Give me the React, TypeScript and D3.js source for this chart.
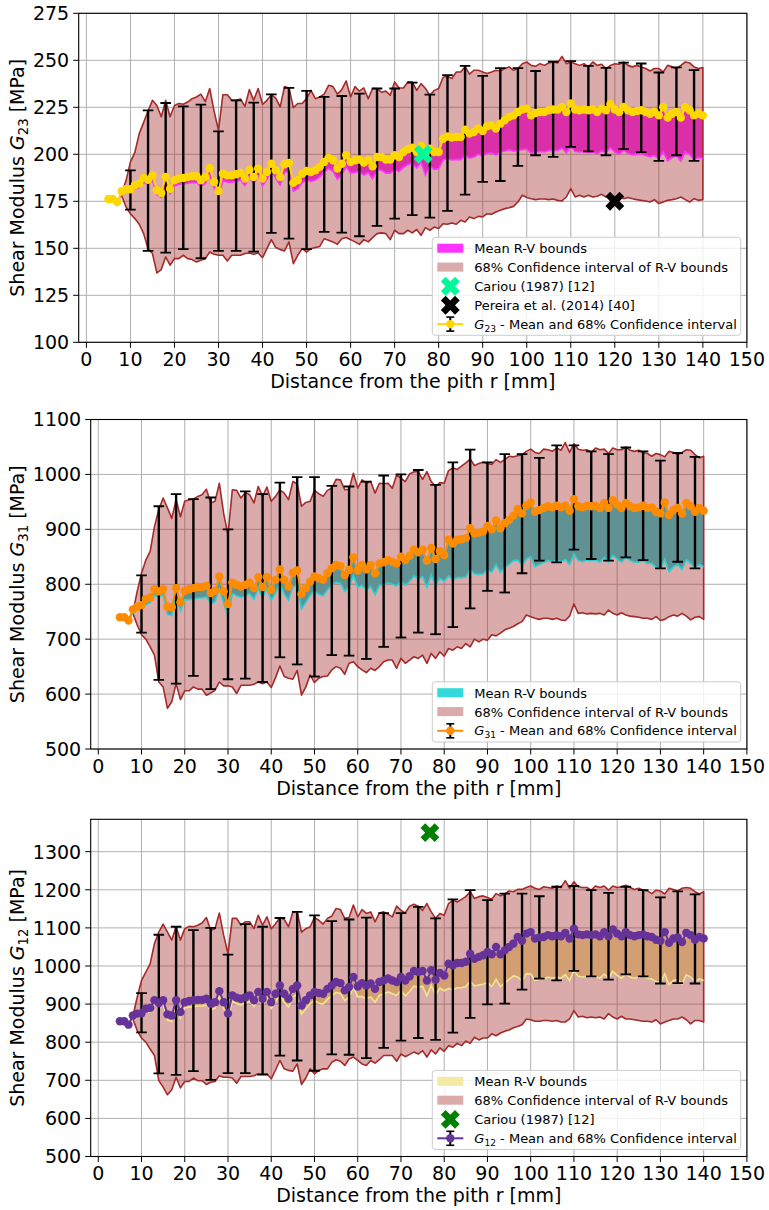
import React from "react";
import * as d3 from "d3";

// ---------------- data ----------------
const R_FIRST = 5; // mean and R-V bounds: r = 5..140 mm, 1 mm step
const CI_FIRST = 8; // CI of R-V bounds: r = 8..140 mm
const ERR_R = [10, 14, 18, 22, 26, 30, 34, 38, 42, 46, 50, 54, 58, 62, 66, 70, 74, 78, 82, 86, 90, 94, 98, 102, 106, 110, 114, 118, 122, 126, 130, 134, 138];
const X_TICKS = [0, 10, 20, 30, 40, 50, 60, 70, 80, 90, 100, 110, 120, 130, 140, 150];
const G23_TICKS = [100, 125, 150, 175, 200, 225, 250, 275];
const G31_TICKS = [500, 600, 700, 800, 900, 1000, 1100];
const G12_TICKS = [500, 600, 700, 800, 900, 1000, 1100, 1200, 1300];

// ---- G23 ----
const G23_MEAN = [176.2,176.2,174.6,180.3,181.4,181.4,183.5,184.4,187.4,186.5,
188.8,180.9,179.4,187.9,181.7,186.2,187.1,187.4,187.9,188.3,
188.3,186.2,187.9,192.7,185.3,180.5,189.7,188.8,188.8,189.4,
190.1,187.1,191.8,187.9,192.4,187.1,190.6,195,191.5,187.9,
194.7,195.4,184.8,186.2,189.7,191.1,190.6,191.5,193.3,195.9,
198,196.8,192.4,195,199.5,195.9,196.8,197.2,195.6,196.8,
193.6,198.6,198.6,197.2,197.2,199.5,198.6,201.2,202.7,203.5,
201.2,204.4,200.4,203,201.2,201.2,208.3,209.5,208.9,209.2,
209.2,213.1,211,211.9,213.7,212.4,214.9,215.4,213.7,216.3,
218.1,219.9,220.7,222.5,223.8,224.3,220.7,222,222.5,222.5,
223.4,223.8,223.8,225.2,222.5,227,223.8,223.4,223.8,223.4,
223.8,222.5,224.3,223.4,226.6,223.8,222.5,225.2,223.4,222.5,
223,223.4,222.5,221.6,222.5,220.7,225,219.5,221.6,222.5,
219.5,225,223.4,220.7,221.6,220.7];
const G23_RV_HI = [175.8,175.8,174.2,179.7,180.8,180.8,182.8,183.7,186.7,185.8,
188,180.2,178.7,187.1,181,185.5,186.4,186.7,187.2,187.6,
187.6,185.5,187.2,192,184.6,179.8,189,188.1,188.1,188.7,
189.4,186.4,191.1,187.2,191.7,186.4,189.9,194.3,190.8,187.2,
194,194.7,184.1,185.5,189,190.4,189.9,190.8,192.6,195.2,
197.3,196.1,191.7,194.3,198.8,195.2,196.1,196.5,194.9,196.1,
192.9,197.9,197.9,196.5,196.5,198.8,197.9,200.5,202,202.8,
200.5,203.7,199.7,202.3,200.5,200.5,207.6,208.8,208.2,208.5,
208.5,212.4,210.3,211.2,213,211.7,214.2,214.7,213,215.6,
217.4,219.2,220,221.8,223.1,223.6,220,221.3,221.8,221.8,
222.7,223.1,223.1,224.5,221.8,226.3,223.1,222.7,223.1,222.7,
223.1,221.8,223.6,222.7,225.9,223.1,221.8,224.5,222.7,221.8,
222.3,222.7,221.8,220.9,221.8,220,224.3,218.8,220.9,221.8,
218.8,224.3,222.7,220,220.9,220];
const G23_RV_LO = [175.5,175.5,173.8,179,180,180,181.5,182.2,185,184,
186,178.5,177,184.5,179,183.2,184,184.3,184.6,185,
185,183,184.5,189,182,177.2,186,185.2,185.2,185.6,
186.3,183.4,188,184,188.5,183.3,186.6,191,187.4,183.7,
190.4,191,180.3,181.7,185,186.3,185.6,186.3,188,190.5,
192.5,191,186.8,189.3,193.5,190,190.5,190.8,189,190.3,
187,191.8,191.6,190,190,192,190.8,193.2,194.5,195.2,
192.8,195.8,189,194,192,192.3,197,197.8,197,197.3,
197.2,199.6,198,198.6,200,199,200.6,200.8,199.6,201.2,
201.8,202.5,201.7,202.2,202.5,202.8,200.5,201.2,201.5,201.3,
202,202.2,202,203.2,200.8,204.2,201.5,201.2,201.5,201,
201.3,200.2,201.8,201,203.5,201.2,200,202.2,200.5,199.7,
200,200.2,199.4,198.7,199.4,197.6,201.5,196.4,198.3,199.2,
196.4,201.4,199.8,197.5,198.3,197.8];
const G23_CI_HI = [179,186,196,201,211,217,223,228.7,226,220,
228.7,220,226,227,226.6,227.8,229.6,230.5,232,228,
235,223,212.8,231.7,231.7,228.7,228.7,229.4,225.5,234.4,
228.7,235,226.6,228.7,231.7,229.9,225.2,236,235.3,224.8,
227,227,229.6,234,229.6,230.5,232,236.7,236,232,
234.4,239,230.5,236,233.6,235.3,229.6,235,235,233,
233.6,231.4,238.5,235.3,235.3,238.5,238.5,234,237.6,235,
231.4,234,235,241,241.5,240.3,243.8,243.8,246.5,242.6,
244.7,244.7,243.8,243,243.8,244.7,244.3,245.6,246.5,244.7,
245.6,248.2,249.1,247.3,246.8,248.2,247.3,248.6,249.1,248.6,
252.1,248.2,249.1,248.2,247.3,248.2,246.5,249.1,247.3,247.9,
245.6,247.3,248.2,247.9,249.1,247.3,246.5,247.3,246.5,245.6,
244.3,245.6,245.6,243.8,247.3,246.5,245.6,247.3,249.1,248.6,
246.5,245.6,246.1];
const G23_CI_LO = [178,172,168.4,165.8,162.8,157.8,149.8,147.2,136.9,138.7,
145.4,141,144.5,144.5,146.3,144.5,144,142.7,143.6,144.5,
148,146.8,146.3,146.3,143.3,146.3,146.3,146.3,147.2,147.5,
146.8,147.5,145,149.8,154.6,150.4,149.3,148.6,153.4,141.8,
146.3,149.8,148,149.8,150.4,151,155.1,154.3,153.4,152.1,
155.1,155.7,154.6,153.4,152.1,154.6,153.4,155.7,157.8,158.2,
157.8,154.6,159.6,157.8,157.8,159.6,158.2,160,156.9,161,
159.6,161.3,160.5,163.1,162.8,163.5,162.8,164.9,164,166.7,
165.8,167,166.7,168.4,168.1,169.3,170.2,171.1,171.6,172.3,
174.6,178.2,177,176.4,175.9,176.2,176.2,175.9,176.2,175.5,
175.2,177.3,181.7,177.3,178.2,177.3,178.2,177.3,177.7,178.7,
177.3,178.2,177.3,177.7,176.4,177,176.4,175.9,175.5,175.2,
174.6,175.9,173.8,174.6,175.5,175.9,176.4,177.3,175.9,174.6,
176.4,175.5,175.9];
const G23_ERR_HI = [191.5,223.4,227.3,225.5,226.4,212.2,228.7,227.5,231.9,235.3,233.7,230.5,231,232.3,235,235,238.1,231.7,242.1,247,241.7,245.8,245.8,244.3,249.3,249.6,247,246,248.8,248.3,243.5,246.2,244.8];
const G23_ERR_LO = [170.6,148.6,147.7,149.6,144.7,148.6,148.6,148.2,158.2,155.1,149.6,158.7,158.3,156.4,161.9,165.8,167.6,166.3,169.9,178.5,185.3,185.8,193.8,199.5,198.6,203.9,201.6,199.5,202.7,201.2,196.5,199.5,196.5];

// ---- G31 ----
const G31_MEAN = [740,740,734,754,759,762,773,776,791,787,
791,759,758,793,767,788,791,793,795,795,
797,784,788,814,787,764,803,799,796,799,
803,793,813,795,813,790,808,827,808,796,
821,825,782,793,805,814,811,808,820,829,
835,833,817,826,849,825,835,827,835,820,
838,840,844,841,838,850,844,852,863,858,
863,843,866,846,860,853,881,874,881,882,
884,902,893,894,896,906,900,916,902,911,
917,925,937,929,943,949,932,935,939,942,
940,943,940,943,934,955,942,940,943,942,
943,939,948,939,953,945,939,948,942,939,
940,943,939,940,932,929,949,926,935,939,
929,948,942,932,939,934];
const G31_RV_HI = [737,737,731,751,756,759,770,773,788,784,
788,756,755,790,764,785,788,790,792,792,
794,781,785,811,784,761,800,796,793,796,
800,790,810,792,810,787,805,824,805,793,
818,822,779,790,802,811,808,805,817,826,
832,830,814,823,846,822,832,824,832,817,
835,837,841,838,835,847,841,849,860,855,
860,840,863,843,857,850,878,871,878,879,
881,899,890,891,893,903,897,913,899,908,
914,922,934,926,940,946,929,932,936,939,
937,940,937,940,931,952,939,937,940,939,
940,936,945,936,950,942,936,945,939,936,
937,940,936,937,929,926,946,923,932,936,
926,945,939,929,936,931];
const G31_RV_LO = [737,737,731,750,755,754,763,766,780,777,
781,745,743,778,752,772,772,773,775,775,
777,764,768,792,766,742,783,779,776,779,
783,773,792,775,792,771,784,802,783,771,
795,799,755,767,780,788,782,779,790,799,
804,802,787,795,817,794,798,789,796,781,
798,799,803,800,797,806,798,805,815,810,
814,794,817,797,811,805,815,808,812,812,
813,828,819,818,819,826,822,836,822,831,
836,843,844,834,846,850,832,836,840,843,
841,844,841,845,836,855,843,841,844,843,
844,840,849,840,853,846,840,849,843,840,
840,843,838,838,831,828,846,823,832,836,
827,845,838,830,836,832];
const G31_CI_HI = [748,787,820,844,860,905,936,957,939,920,
954,923,951,954,955,960,963,973,948,951,
984,929,890,972,971,957,967,963,948,978,
960,977,951,960,972,966,954,987,983,942,
949,951,971,965,960,971,975,991,990,972,
973,1002,975,990,984,987,966,984,983,984,
975,999,993,987,1001,1005,1005,991,1005,987,
978,985,984,1007,1012,1009,1015,1021,1028,1016,
1020,1022,1020,1018,1027,1022,1027,1033,1032,1034,
1036,1042,1046,1040,1038,1046,1045,1042,1048,1044,
1058,1040,1056,1046,1044,1045,1040,1048,1045,1046,
1038,1048,1045,1045,1050,1044,1042,1044,1040,1038,
1033,1038,1036,1032,1042,1040,1036,1040,1045,1044,
1036,1030,1033];
const G31_CI_LO = [747,726,708,700,686,671,622,613,574,586,
619,590,606,606,613,609,609,598,602,607,
622,615,615,613,601,616,616,616,618,622,
619,622,612,630,651,632,629,627,643,598,
613,635,621,629,632,633,644,650,647,636,
656,659,650,644,639,647,643,650,659,662,
662,647,665,656,662,668,665,671,656,674,
665,677,669,683,680,686,683,692,686,700,
695,700,698,708,706,711,717,720,723,728,
732,744,741,738,736,738,738,736,738,735,
734,742,764,747,748,746,747,746,747,744,
753,747,744,748,744,742,741,740,738,738,
736,741,734,736,741,744,742,747,742,735,
740,741,736];
const G31_ERR_HI = [816,942,964,955,958,900,969,964,985,995,995,979,978,987,998,1000,1008,981,1022,1045,1022,1037,1037,1030,1053,1053,1042,1037,1049,1042,1025,1039,1032];
const G31_ERR_LO = [712,626,619,633,609,627,628,622,667,654,632,671,670,664,686,703,712,709,722,756,788,785,820,843,840,863,846,843,849,844,829,841,829];

// ---- G12 ----
const G12_MEAN = [855,855,846,870,875,876,888,890,910,903,
910,873,870,910,879,905,908,910,911,911,
914,901,905,934,905,875,923,917,914,918,
923,910,932,914,932,905,927,949,927,914,
940,949,896,910,923,932,929,927,940,949,
958,955,936,945,971,946,955,949,954,940,
958,962,967,962,958,971,962,973,987,984,
987,962,989,964,982,975,1006,1002,1008,1008,
1011,1032,1019,1024,1028,1037,1031,1050,1031,1041,
1050,1059,1076,1066,1085,1089,1072,1075,1076,1081,
1078,1081,1078,1087,1072,1098,1083,1081,1083,1081,
1083,1078,1089,1078,1096,1085,1078,1089,1081,1078,
1081,1083,1078,1076,1069,1066,1089,1061,1072,1075,
1063,1087,1081,1069,1076,1072];
const G12_RV_HI = [852,852,843,867,872,873,885,887,907,900,
907,870,867,907,876,902,905,907,908,908,
911,898,902,931,902,872,920,914,911,915,
920,907,929,911,929,902,924,946,924,911,
937,946,893,907,920,929,926,924,937,946,
955,952,933,942,968,943,952,946,951,937,
955,959,964,959,955,968,959,970,984,981,
984,959,986,961,979,972,1003,999,1005,1005,
1008,1029,1016,1021,1025,1034,1028,1047,1028,1038,
1047,1056,1073,1063,1082,1086,1069,1072,1073,1078,
1075,1078,1075,1084,1069,1095,1080,1078,1080,1078,
1080,1075,1086,1075,1093,1082,1075,1086,1078,1075,
1078,1080,1075,1073,1066,1063,1086,1058,1069,1072,
1060,1084,1078,1066,1073,1069];
const G12_RV_LO = [852,852,843,867,872,870,878,880,900,893,
900,858,855,895,864,890,892,894,895,895,
898,885,889,918,889,859,907,901,898,902,
907,894,916,898,916,889,905,927,905,892,
918,927,874,888,901,910,902,900,913,922,
931,928,909,918,944,919,920,914,919,905,
923,927,932,927,923,936,922,933,947,944,
947,922,949,924,942,935,941,937,943,943,
946,960,948,950,952,957,946,965,946,956,
965,974,971,961,980,979,962,965,966,971,
968,971,968,977,962,988,973,971,973,971,
973,968,979,968,986,975,968,979,971,968,
971,973,968,966,959,956,979,951,962,965,
953,977,971,959,966,962];
const G12_CI_HI = [868,918,962,984,1006,1059,1089,1110,1089,1068,
1103,1068,1098,1104,1103,1107,1113,1127,1094,1098,
1139,1081,1032,1125,1125,1107,1116,1116,1098,1133,
1107,1129,1098,1111,1127,1122,1103,1142,1142,1089,
1098,1103,1127,1120,1110,1125,1131,1151,1148,1125,
1127,1160,1129,1148,1138,1142,1116,1139,1142,1136,
1129,1157,1146,1139,1157,1162,1157,1146,1164,1142,
1125,1138,1133,1164,1173,1168,1175,1182,1195,1177,
1182,1184,1180,1175,1190,1184,1189,1197,1195,1201,
1201,1206,1210,1204,1201,1208,1206,1204,1210,1206,
1224,1204,1221,1208,1206,1206,1199,1210,1206,1210,
1199,1210,1206,1208,1212,1206,1201,1204,1199,1197,
1190,1199,1197,1189,1204,1201,1197,1204,1206,1204,
1195,1189,1195];
const G12_CI_LO = [861,831,811,800,782,765,699,682,662,675,
708,680,697,697,706,699,699,689,695,697,
712,708,708,706,692,710,710,710,712,717,
715,717,704,727,752,730,726,724,743,689,
706,730,717,726,730,730,747,754,750,739,
756,761,752,743,739,752,745,754,765,765,
765,750,769,762,768,774,769,778,761,780,
769,785,776,791,787,797,791,803,797,813,
806,811,811,822,817,824,829,832,838,841,
846,861,859,855,855,857,857,855,857,853,
853,861,883,866,868,864,866,864,866,861,
875,866,861,868,861,861,859,857,855,855,
853,859,848,853,857,861,861,866,859,848,
857,857,853];
const G12_ERR_HI = [929,1082,1103,1094,1100,1030,1110,1103,1126,1142,1133,1118,1122,1127,1139,1139,1155,1125,1175,1199,1173,1190,1190,1183,1208,1210,1199,1192,1208,1199,1180,1196,1188];
const G12_ERR_LO = [826,718,714,724,701,719,719,715,765,752,725,768,767,758,785,804,811,806,825,864,899,901,938,967,962,987,973,964,978,973,954,955,954];

// reference values [r, value]
const CARIOU_G23 = [76.5, 200];
const PEREIRA_G23 = [120, 175];
const CARIOU_G12 = [76.7, 1350];

// ---------------- drawing ----------------
const FONT = "'DejaVu Sans', 'Liberation Sans', sans-serif";
const BROWN = "#A52A2A";
const CI_LEGEND = "#DBAAAA";

type Ref = { label: string; pt: number[]; color: string };
type Spec = {
  id: string;
  left: number; right: number; top: number; bottom: number;
  yDomain: [number, number]; yTicks: number[];
  mean: number[]; rvHi: number[]; rvLo: number[]; ciHi: number[]; ciLo: number[];
  errHi: number[]; errLo: number[];
  meanColor: string; rvFill: string; rvEdge: string;
  sub: string; refs: Ref[];
};

function xMarkerPath(cx: number, cy: number, s: number) {
  const plus = [[-1, -3], [1, -3], [1, -1], [3, -1], [3, 1], [1, 1], [1, 3], [-1, 3], [-1, 1], [-3, 1], [-3, -1], [-1, -1]];
  const c = Math.cos(Math.PI / 4), sn = Math.sin(Math.PI / 4);
  const pts = plus.map(([a, b]) => {
    const u = (a / 6) * s, v = (b / 6) * s;
    return [cx + u * c - v * sn, cy + u * sn + v * c];
  });
  return "M" + pts.map((p) => p[0].toFixed(2) + "," + p[1].toFixed(2)).join("L") + "Z";
}

function Panel({ spec }: { spec: Spec }) {
  const x = d3.scaleLinear().domain([-1.75, 150]).range([spec.left, spec.right]);
  const y = d3.scaleLinear().domain(spec.yDomain).range([spec.bottom, spec.top]);
  const meanPts = spec.mean.map((v, i) => ({ r: R_FIRST + i, v }));
  const rv = spec.rvLo.map((lo, i) => ({ r: R_FIRST + i, lo, hi: spec.rvHi[i] }));
  const ci = spec.ciLo.map((lo, i) => ({ r: CI_FIRST + i, lo, hi: spec.ciHi[i] }));
  const area = d3.area<any>().x((d) => x(d.r)).y0((d) => y(d.lo)).y1((d) => y(d.hi));
  const loLine = d3.line<any>().x((d) => x(d.r)).y((d) => y(d.lo));
  const hiLine = d3.line<any>().x((d) => x(d.r)).y((d) => y(d.hi));
  const mLine = d3.line<any>().x((d) => x(d.r)).y((d) => y(d.v));
  const clip = "clip-" + spec.id;
  const cy = (spec.top + spec.bottom) / 2;
  const cx = (spec.left + spec.right) / 2;

  const items: any[] = [
    { kind: "patch", color: spec.rvFill, label: "Mean R-V bounds" },
    { kind: "patch", color: CI_LEGEND, label: "68% Confidence interval of R-V bounds" },
    ...spec.refs.map((r) => ({ kind: "x", color: r.color, label: r.label })),
    { kind: "mean", color: spec.meanColor },
  ];
  const rowH = 18.9;
  const lgH = items.length * rowH + 3.5;
  const lgW = 308.4;
  const lgX = spec.right - 6.2 - lgW;
  const lgY = spec.bottom - 7 - lgH;

  return (
    <g>
      <defs>
        <clipPath id={clip}>
          <rect x={spec.left} y={spec.top} width={spec.right - spec.left} height={spec.bottom - spec.top} />
        </clipPath>
      </defs>
      {/* grid */}
      <g stroke="#b0b0b0" strokeWidth={1}>
        {X_TICKS.map((t) => (
          <line key={"gx" + t} x1={x(t)} x2={x(t)} y1={spec.top} y2={spec.bottom} />
        ))}
        {spec.yTicks.map((t) => (
          <line key={"gy" + t} x1={spec.left} x2={spec.right} y1={y(t)} y2={y(t)} />
        ))}
      </g>
      <g clipPath={`url(#${clip})`}>
        <path d={area(rv) || ""} fill={spec.rvFill} stroke="none" />
        <path d={area(ci) || ""} fill={BROWN} fillOpacity={0.4} stroke="none" />
        <path d={(area(ci) || "")} fill="none" stroke={BROWN} strokeWidth={1.6} strokeLinejoin="round" />
        <path d={loLine(rv) || ""} fill="none" stroke={spec.rvEdge} strokeWidth={1.6} />
        <path d={hiLine(rv) || ""} fill="none" stroke={spec.rvEdge} strokeWidth={1.6} />
        {/* error bars */}
        <g stroke="#000">
          {ERR_R.map((r, i) => (
            <g key={"e" + r}>
              <line x1={x(r)} x2={x(r)} y1={y(spec.errLo[i])} y2={y(spec.errHi[i])} strokeWidth={2.4} />
              <line x1={x(r) - 5.3} x2={x(r) + 5.3} y1={y(spec.errLo[i])} y2={y(spec.errLo[i])} strokeWidth={1.8} />
              <line x1={x(r) - 5.3} x2={x(r) + 5.3} y1={y(spec.errHi[i])} y2={y(spec.errHi[i])} strokeWidth={1.8} />
            </g>
          ))}
        </g>
        <path d={mLine(meanPts) || ""} fill="none" stroke={spec.meanColor} strokeWidth={2} />
        {meanPts.map((p) => (
          <circle key={"m" + p.r} cx={x(p.r)} cy={y(p.v)} r={4.2} fill={spec.meanColor} />
        ))}
        {spec.refs.map((r) => (
          <path key={r.label} d={xMarkerPath(x(r.pt[0]), y(r.pt[1]), 20)} fill={r.color} />
        ))}
      </g>
      {/* spines */}
      <rect x={spec.left} y={spec.top} width={spec.right - spec.left} height={spec.bottom - spec.top} fill="none" stroke="#000" strokeWidth={1.1} />
      {/* x ticks */}
      <g fontFamily={FONT} fontSize={19} fill="#000">
        {X_TICKS.map((t) => (
          <g key={"xt" + t}>
            <line x1={x(t)} x2={x(t)} y1={spec.bottom} y2={spec.bottom + 5.5} stroke="#000" strokeWidth={1} />
            <text x={x(t)} y={spec.bottom + 23.5} textAnchor="middle">{t}</text>
          </g>
        ))}
        {spec.yTicks.map((t) => (
          <g key={"yt" + t}>
            <line x1={spec.left - 5.5} x2={spec.left} y1={y(t)} y2={y(t)} stroke="#000" strokeWidth={1} />
            <text x={spec.left - 9.5} y={y(t) + 6.9} textAnchor="end">{t}</text>
          </g>
        ))}
        <text x={cx} y={spec.bottom + 45.5} textAnchor="middle">Distance from the pith r [mm]</text>
        <text transform={`translate(24,${cy}) rotate(-90)`} textAnchor="middle">
          Shear Modulus <tspan fontStyle="italic">G</tspan>
          <tspan dy={4} fontSize={13.3}>{spec.sub}</tspan>
          <tspan dy={-4}> [MPa]</tspan>
        </text>
      </g>
      {/* legend */}
      <g fontFamily={FONT} fontSize={13}>
        <rect x={lgX} y={lgY} width={lgW} height={lgH} rx={3} fill="#fff" fillOpacity={0.8} stroke="#cccccc" strokeWidth={1} />
        {items.map((it, i) => {
          const ry = lgY + 11.2 + i * rowH;
          const hx = lgX + 5;
          let handle: any = null;
          if (it.kind === "patch") {
            handle = <rect x={hx} y={ry - 4.8} width={26} height={9} fill={it.color} />;
          } else if (it.kind === "x") {
            handle = <path d={xMarkerPath(hx + 13, ry, 20)} fill={it.color} />;
          } else {
            handle = (
              <g>
                <line x1={hx + 13} x2={hx + 13} y1={ry - 7} y2={ry + 7} stroke="#000" strokeWidth={2} />
                <line x1={hx + 9} x2={hx + 17} y1={ry - 7} y2={ry - 7} stroke="#000" strokeWidth={1.6} />
                <line x1={hx + 9} x2={hx + 17} y1={ry + 7} y2={ry + 7} stroke="#000" strokeWidth={1.6} />
                <line x1={hx} x2={hx + 26} y1={ry} y2={ry} stroke={it.color} strokeWidth={2} />
                <circle cx={hx + 13} cy={ry} r={4.2} fill={it.color} />
              </g>
            );
          }
          return (
            <g key={"lg" + i}>
              {handle}
              {it.kind === "mean" ? (
                <text x={lgX + 42} y={ry + 4.6} fill="#000">
                  <tspan fontStyle="italic">G</tspan>
                  <tspan dy={3} fontSize={9.1}>{spec.sub}</tspan>
                  <tspan dy={-3}> - Mean and 68% Confidence interval</tspan>
                </text>
              ) : (
                <text x={lgX + 42} y={ry + 4.6} fill="#000">{it.label}</text>
              )}
            </g>
          );
        })}
      </g>
    </g>
  );
}

const SPECS: Spec[] = [
  {
    id: "g23", left: 78.7, right: 746.9, top: 13.3, bottom: 342.3,
    yDomain: [100, 275], yTicks: G23_TICKS,
    mean: G23_MEAN, rvHi: G23_RV_HI, rvLo: G23_RV_LO, ciHi: G23_CI_HI, ciLo: G23_CI_LO,
    errHi: G23_ERR_HI, errLo: G23_ERR_LO,
    meanColor: "#FFD700", rvFill: "#FF33FF", rvEdge: "#FF33FF", sub: "23",
    refs: [
      { label: "Cariou (1987) [12]", pt: CARIOU_G23, color: "#00FA9A" },
      { label: "Pereira et al. (2014) [40]", pt: PEREIRA_G23, color: "#000000" },
    ],
  },
  {
    id: "g31", left: 90.7, right: 746.9, top: 419.5, bottom: 749,
    yDomain: [500, 1100], yTicks: G31_TICKS,
    mean: G31_MEAN, rvHi: G31_RV_HI, rvLo: G31_RV_LO, ciHi: G31_CI_HI, ciLo: G31_CI_LO,
    errHi: G31_ERR_HI, errLo: G31_ERR_LO,
    meanColor: "#FF8C00", rvFill: "#33D8DA", rvEdge: "#2ACFD1", sub: "31",
    refs: [],
  },
  {
    id: "g12", left: 90.7, right: 746.9, top: 819.3, bottom: 1156.5,
    yDomain: [500, 1385], yTicks: G12_TICKS,
    mean: G12_MEAN, rvHi: G12_RV_HI, rvLo: G12_RV_LO, ciHi: G12_CI_HI, ciLo: G12_CI_LO,
    errHi: G12_ERR_HI, errLo: G12_ERR_LO,
    meanColor: "#663399", rvFill: "#F3EBA3", rvEdge: "#F0E68C", sub: "12",
    refs: [{ label: "Cariou (1987) [12]", pt: CARIOU_G12, color: "#008000" }],
  },
];

export default function App() {
  return (
    <svg width={769} height={1210} style={{ position: "absolute", left: 0, top: 0, background: "#fff" }}>
      <rect x={0} y={0} width={769} height={1210} fill="#fff" />
      {SPECS.map((s) => (
        <Panel key={s.id} spec={s} />
      ))}
    </svg>
  );
}
